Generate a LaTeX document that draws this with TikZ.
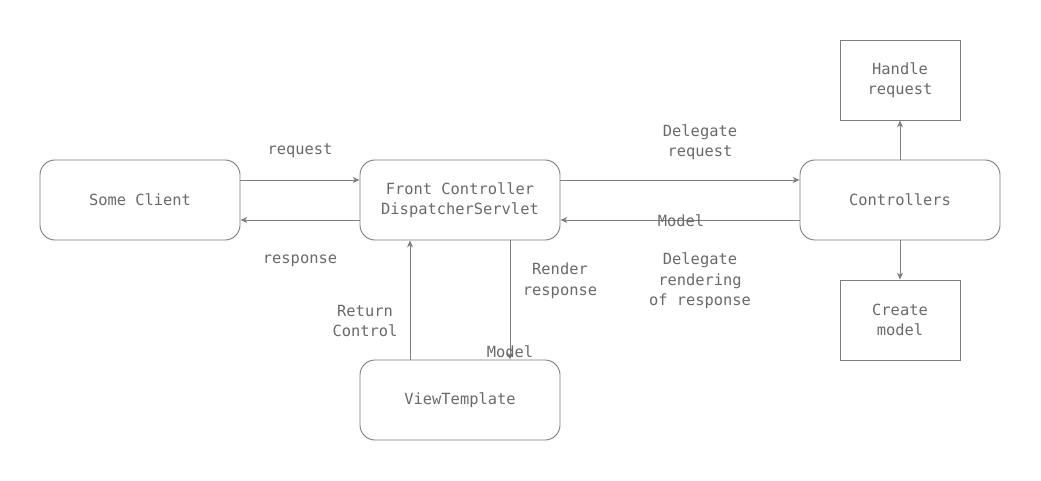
\documentclass[tikz,border=0pt]{standalone}
\usepackage{fontspec}
\setmonofont{DejaVu Sans Mono}
\usetikzlibrary{arrows.meta}
\definecolor{linec}{RGB}{125,125,125}
\definecolor{textc}{RGB}{105,105,105}
\tikzset{
  every node/.style={font=\ttfamily\fontsize{15.4}{20.5}\selectfont, text=textc, align=center},
  roundbox/.style={draw=linec, line width=0.9pt, rounded corners=15pt, minimum width=200pt, minimum height=80pt, inner sep=0pt},
  sqbox/.style={draw=linec, line width=0.9pt, minimum width=120pt, minimum height=80pt, inner sep=0pt},
  conn/.style={draw=linec, line width=0.9pt, -{Stealth[length=7pt,width=6pt]}},
  lbl/.style={inner sep=0pt}
}
\begin{document}
\begin{tikzpicture}[x=1pt,y=-1pt]
\useasboundingbox (0,0) rectangle (1041,481);
\node[roundbox] (client) at (140,200) {Some Client};
\node[roundbox] (front) at (460,200) {Front Controller\\DispatcherServlet};
\node[roundbox] (ctrl) at (900,200) {Controllers};
\node[roundbox] (view) at (460,400) {ViewTemplate};
\node[sqbox] (handle) at (900,80) {Handle\\request};
\node[sqbox] (create) at (900,320) {Create\\model};

\coordinate (c1) at (240,180);
\coordinate (c2) at (240,220);
\draw[conn] (client.east |- c1) -- (front.west |- c1);
\draw[conn] (front.west |- c2) -- (client.east |- c2);
\draw[conn] (front.east |- c1) -- (ctrl.west |- c1);
\draw[conn] (ctrl.west |- c2) -- (front.east |- c2);
\coordinate (v1) at (410,300);
\coordinate (v2) at (510,300);
\draw[conn] (view.north -| v1) -- (front.south -| v1);
\draw[conn] (front.south -| v2) -- (view.north -| v2);
\draw[conn] (ctrl.north) -- (handle.south);
\draw[conn] (ctrl.south) -- (create.north);

\node[lbl] (lreq) at (300,151) {request};
\node[lbl] (lresp) at (300,261) {response};
\node[lbl] (ldel) at (700,142) {Delegate\\request};
\node[lbl] (lmod) at (681,221) {Model};
\node[lbl] (ldr) at (700,281) {Delegate\\rendering\\of response};
\node[lbl] (lret) at (365,321) {Return\\Control};
\node[lbl] (lren) at (560,281) {Render\\response};
\node[lbl] (lmod2) at (510,352) {Model};
\end{tikzpicture}
\end{document}
